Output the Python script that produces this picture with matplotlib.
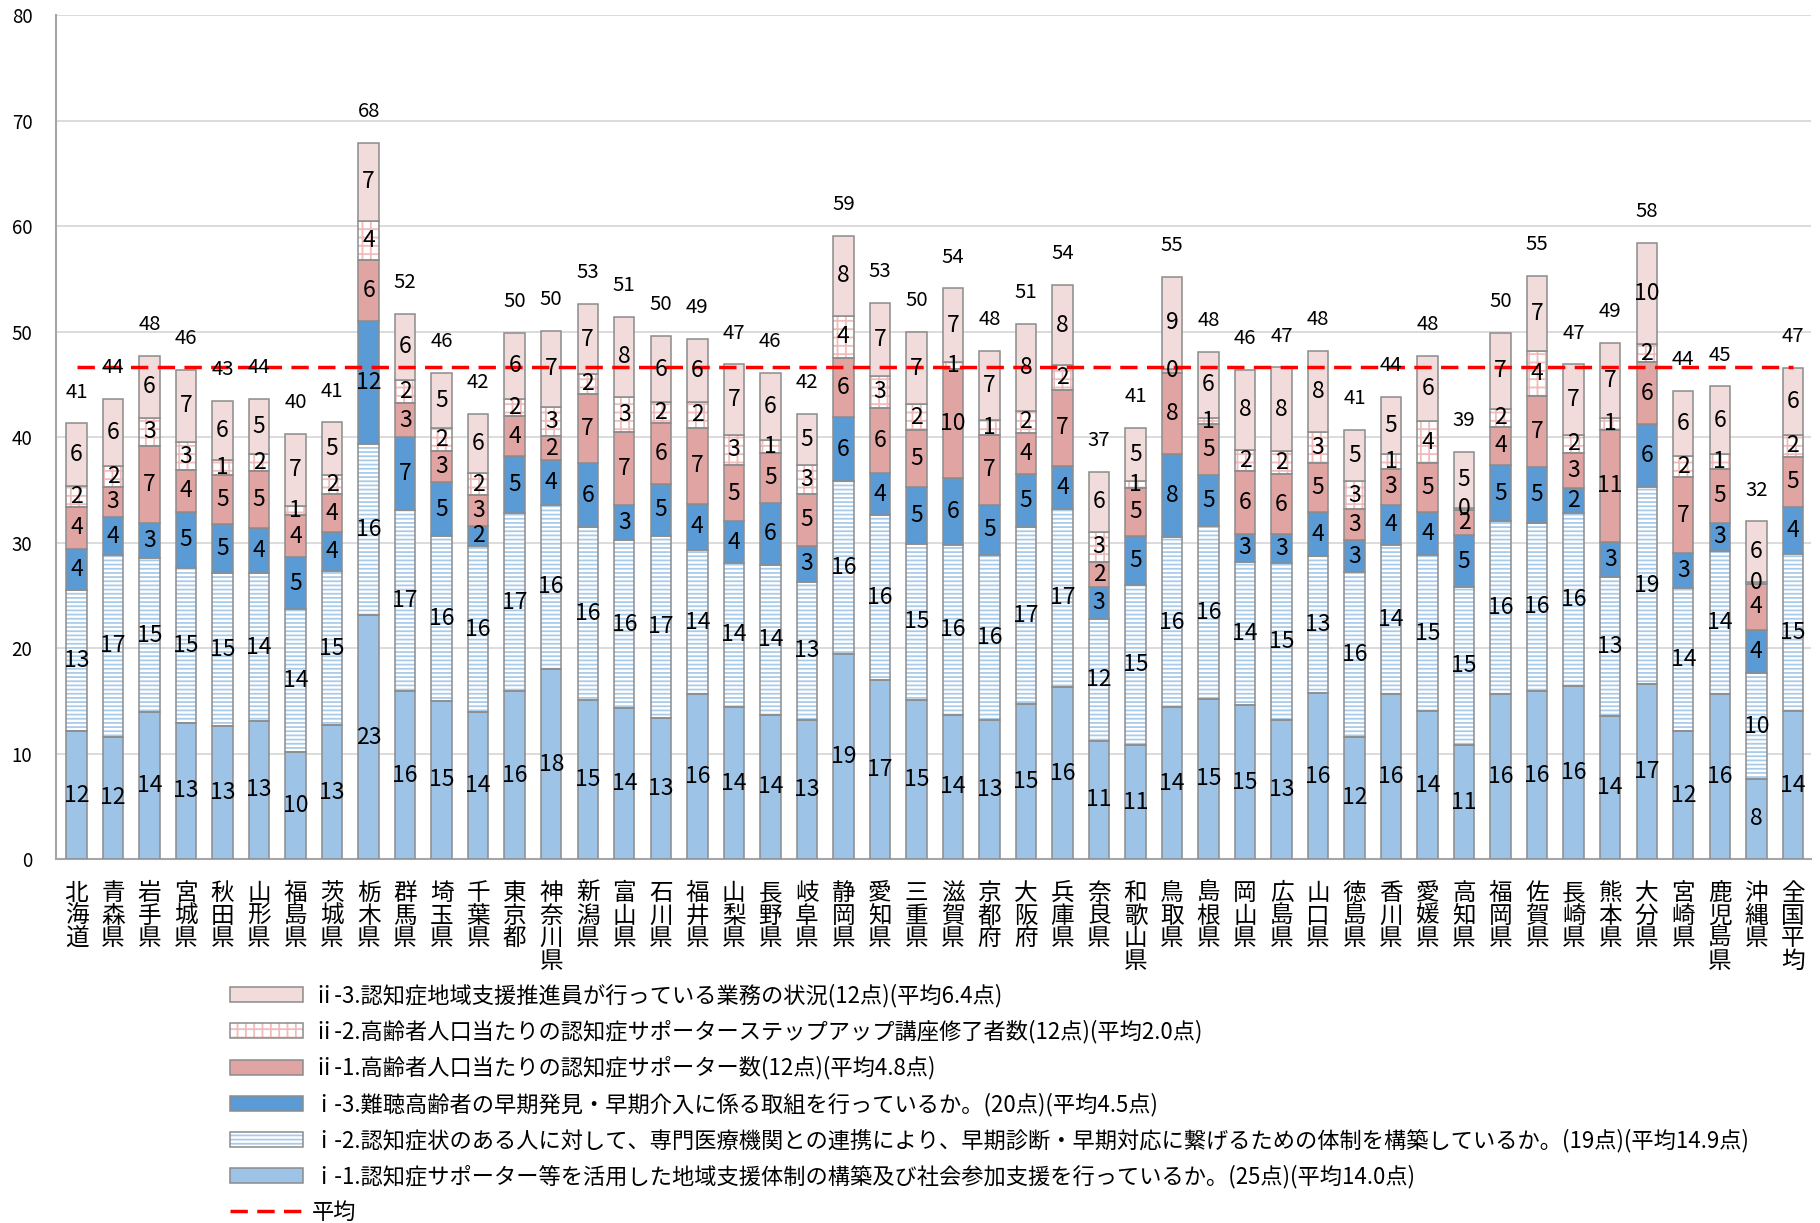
import matplotlib
matplotlib.use('Agg')
import matplotlib.pyplot as plt
import numpy as np
from matplotlib.patches import Patch
from matplotlib.lines import Line2D
from matplotlib.legend_handler import HandlerTuple
from matplotlib.font_manager import FontProperties

plt.rcParams['font.family'] = ['Noto Sans CJK JP', 'DejaVu Sans']
plt.rcParams['hatch.linewidth'] = 1.3

prefs = ["北海道", "青森県", "岩手県", "宮城県", "秋田県", "山形県", "福島県", "茨城県",
         "栃木県", "群馬県", "埼玉県", "千葉県", "東京都", "神奈川県", "新潟県", "富山県",
         "石川県", "福井県", "山梨県", "長野県", "岐阜県", "静岡県", "愛知県", "三重県",
         "滋賀県", "京都府", "大阪府", "兵庫県", "奈良県", "和歌山県", "鳥取県", "島根県",
         "岡山県", "広島県", "山口県", "徳島県", "香川県", "愛媛県", "高知県", "福岡県",
         "佐賀県", "長崎県", "熊本県", "大分県", "宮崎県", "鹿児島県", "沖縄県", "全国平均"]

# i-1
i1 = [12.1, 11.6, 13.9, 12.9, 12.6, 13.1, 10.1, 12.7, 23.1, 15.9, 15.0, 13.9, 15.9, 18.0, 15.1, 14.3,
      13.4, 15.6, 14.4, 13.7, 13.2, 19.4, 17.0, 15.1, 13.7, 13.2, 14.7, 16.3, 11.2, 10.8, 14.4, 15.2,
      14.6, 13.2, 15.7, 11.6, 15.6, 14.0, 10.8, 15.6, 15.9, 16.4, 13.6, 16.6, 12.1, 15.6, 7.6, 14.0]
# i-2
i2 = [13.4, 17.2, 14.6, 14.7, 14.5, 14.0, 13.6, 14.6, 16.2, 17.2, 15.6, 15.8, 16.9, 15.6, 16.4, 15.9,
      17.2, 13.7, 13.7, 14.2, 13.1, 16.4, 15.6, 14.8, 16.1, 15.6, 16.8, 16.9, 11.6, 15.2, 16.1, 16.4,
      13.6, 14.9, 13.0, 15.6, 14.2, 14.8, 15.0, 16.4, 16.0, 16.4, 13.1, 18.7, 13.6, 13.6, 10.0, 14.9]
# i-3
i3 = [3.9, 3.6, 3.4, 5.3, 4.7, 4.3, 4.9, 3.7, 11.7, 6.9, 5.1, 1.9, 5.4, 4.2, 6.0, 3.4,
      5.0, 4.4, 3.9, 5.9, 3.4, 6.1, 4.0, 5.4, 6.3, 4.8, 5.0, 4.1, 3.0, 4.6, 7.9, 4.8,
      2.6, 2.7, 4.2, 3.0, 3.8, 4.1, 4.9, 5.4, 5.3, 2.4, 3.4, 5.9, 3.3, 2.7, 4.1, 4.46]
# ii-1
ii1 = [4.0, 2.9, 7.3, 4.0, 4.6, 5.4, 4.0, 3.6, 5.8, 3.2, 3.0, 2.9, 3.8, 2.3, 6.6, 6.9,
       5.7, 7.2, 5.4, 4.7, 4.9, 5.6, 6.2, 5.4, 10.4, 6.6, 3.9, 7.2, 2.4, 4.6, 7.7, 4.8,
       6.0, 5.7, 4.6, 3.0, 3.4, 4.6, 2.4, 3.6, 6.7, 3.3, 10.6, 5.9, 7.2, 5.1, 4.4, 4.8]
# ii-2
ii2 = [2.0, 2.0, 2.6, 2.6, 1.4, 1.6, 0.9, 1.8, 3.7, 2.2, 2.2, 2.1, 1.6, 2.8, 1.9, 3.3,
       2.0, 2.4, 2.8, 1.2, 2.8, 4.0, 3.0, 2.4, 0.6, 1.4, 2.1, 2.3, 2.8, 0.6, 0.4, 0.6,
       2.0, 2.2, 3.0, 2.6, 1.4, 4.0, 0.2, 1.7, 4.3, 1.7, 1.1, 1.7, 2.0, 1.4, 0.2, 2.0]
# ii-3
ii3 = [5.9, 6.3, 5.9, 6.9, 5.6, 5.2, 6.8, 5.0, 7.4, 6.3, 5.2, 5.6, 6.3, 7.2, 6.6, 7.6,
       6.3, 6.0, 6.7, 6.4, 4.8, 7.6, 6.9, 6.9, 7.0, 6.6, 8.2, 7.6, 5.7, 5.1, 8.7, 6.3,
       7.6, 7.9, 7.7, 4.9, 5.4, 6.2, 5.3, 7.2, 7.1, 6.7, 7.1, 9.6, 6.2, 6.4, 5.7, 6.4]

avg_total = 46.6

legend_labels = [
    "ⅱ-3.認知症地域支援推進員が行っている業務の状況(12点)(平均6.4点)",
    "ⅱ-2.高齢者人口当たりの認知症サポーターステップアップ講座修了者数(12点)(平均2.0点)",
    "ⅱ-1.高齢者人口当たりの認知症サポーター数(12点)(平均4.8点)",
    "ⅰ-3.難聴高齢者の早期発見・早期介入に係る取組を行っているか。(20点)(平均4.5点)",
    "ⅰ-2.認知症状のある人に対して、専門医療機関との連携により、早期診断・早期対応に繋げるための体制を構築しているか。(19点)(平均14.9点)",
    "ⅰ-1.認知症サポーター等を活用した地域支援体制の構築及び社会参加支援を行っているか。(25点)(平均14.0点)",
    "平均",
]

edge = '#8C8C8C'
styles = [
    dict(fc='#9DC3E6', hatch=None, hc=None),      # i-1
    dict(fc='white', hatch='----', hc='#A9CBEA'), # i-2
    dict(fc='#5B9BD5', hatch=None, hc=None),      # i-3
    dict(fc='#E0A4A3', hatch=None, hc=None),      # ii-1
    dict(fc='white', hatch='++', hc='#F0BCBB'),   # ii-2
    dict(fc='#F2DCDB', hatch=None, hc=None),      # ii-3
]


def lab(v):
    return str(int(np.floor(v + 0.5)))


fig = plt.figure(figsize=(18.2, 12.23), dpi=100)
ax = fig.add_axes([0.0308, 0.2976, 0.9643, 0.690])

n = len(prefs)
x = np.arange(n)
w = 0.56
series = [i1, i2, i3, ii1, ii2, ii3]
bottom = np.zeros(n)
for k, vals in enumerate(series):
    vals = np.array(vals, dtype=float)
    st = styles[k]
    if st['hatch']:
        ax.bar(x, vals, w, bottom=bottom, color='white', edgecolor=st['hc'],
               linewidth=0, hatch=st['hatch'], zorder=2)
        ax.bar(x, vals, w, bottom=bottom, facecolor='none', edgecolor=edge,
               linewidth=1.1, zorder=3)
    else:
        ax.bar(x, vals, w, bottom=bottom, color=st['fc'], edgecolor=edge,
               linewidth=1.1, zorder=3)
    for xi, b, v in zip(x, bottom, vals):
        ax.text(xi, b + v / 2, lab(v), ha='center', va='center', fontsize=16.5,
                color='black', zorder=6)
    bottom = bottom + vals

for xi, t in zip(x, bottom):
    ax.annotate(lab(t), (xi, t), xytext=(0, 22.5), textcoords='offset points',
                ha='center', va='center', fontsize=14.7, color='black', zorder=6)

dash = (0, (5, 2.7))
ax.plot(x, np.full(n, avg_total), color='#FF0000', ls=dash, lw=2.5, zorder=5)

ax.set_ylim(0, 80)
ax.set_xlim(-0.56, n - 0.5)
ax.set_yticks(range(0, 81, 10))
ax.yaxis.grid(True, color='#D9D9D9', lw=1.3)
ax.set_axisbelow(True)
for s in ['top', 'right']:
    ax.spines[s].set_visible(False)
for s in ['left', 'bottom']:
    ax.spines[s].set_color('#A6A6A6')
    ax.spines[s].set_linewidth(1.5)
ax.tick_params(axis='y', length=0, pad=17, labelsize=13.5)
ax.tick_params(axis='x', length=0, pad=16.5)
ax.set_xticks(x)
ax.set_xticklabels(['\n'.join(p) for p in prefs], fontsize=17,
                   family=['Noto Sans CJK JP', 'DejaVu Sans'], linespacing=0.98, va='top')

handles = []
for st in reversed(styles):
    if st['hatch']:
        handles.append((Patch(facecolor='white', edgecolor=st['hc'], hatch=st['hatch'], lw=0),
                        Patch(facecolor='none', edgecolor=edge, lw=1.1)))
    else:
        handles.append(Patch(facecolor=st['fc'], edgecolor=edge, lw=1.1))
handles.append(Line2D([], [], color='#FF0000', ls=dash, lw=2.5))

fig.legend(handles, legend_labels, loc='upper left',
           bbox_to_anchor=(230 / 1820, 1 - 984 / 1223), frameon=False,
           prop=FontProperties(family=['Noto Sans CJK JP', 'DejaVu Sans'], size=16),
           handlelength=3.3, handleheight=0.66, handletextpad=0.4, labelspacing=0.56,
           borderpad=0, borderaxespad=0,
           handler_map={tuple: HandlerTuple(ndivide=1, pad=0)})

fig.savefig('out.png', dpi=100)
